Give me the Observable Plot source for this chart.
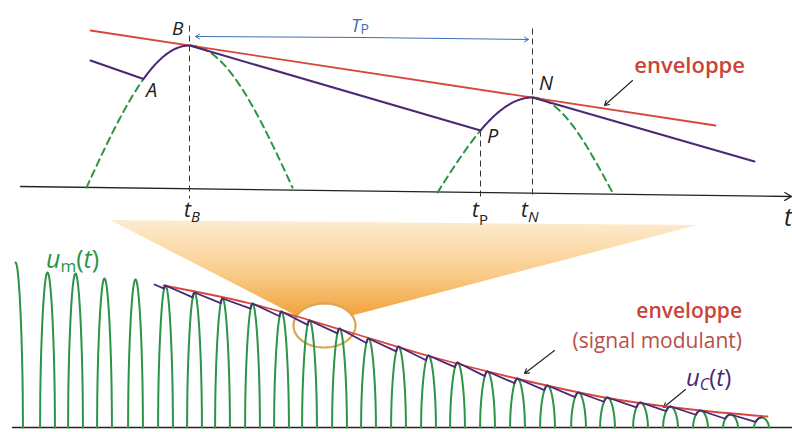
<!DOCTYPE html>
<html><head><meta charset="utf-8">
<script src="https://cdn.jsdelivr.net/npm/d3@7"></script>
<script src="https://cdn.jsdelivr.net/npm/@observablehq/plot@0.6"></script>
<style>body{margin:0;background:#fff}</style>
</head><body><div id="chart"></div>
<script>
// ---------- DATA (drawing units, t to the right, u downward) ----------
// upper detail view
const topAxisT = [20, 791];
const topAxisU = [186, 196];
const topEnvT = [90, 715];          // enveloppe (straight tangent)
const topEnvU = [30, 125];
const topArchT = [189, 532];        // carrier peaks B and N
const topArchPeakU = [45, 97];
const topArchBaseU = [187, 192];
const topArchHalfLeft = [103, 95];
const topArchHalfRight = [103, 80];
const ucTopStartT = 90, ucTopStartU = 60;
const ucTopEndT = 754, ucTopEndU = 161;
const tA = 143, tP = 480;           // where u_C meets the carrier
const markerT = [189, 480, 532];    // t_B, t_P, t_N
const markerTopU = [25, null, 28];
const markerBottomU = [198, 198, 198];

// lower overview
const baseU = 427;
const baseT = [12, 792];
const carrierPeriod = 29.7;
const carrierPeakT = [15,47,75,104,135,165,194,222,252,281,309,339,368,398,428,457,487,517,547,578,607,640,670,700,730,761];
const carrierPeakU = [262,272,273,278,279,285,292,298,303,311,320,328,338,346,355,362,371,378,385,392,397,402,406,410,414,417];
const envBottomT = [163, 250, 340, 430, 520, 610, 700, 767];
const envBottomU = [285, 303, 329, 356, 379, 398, 410, 416];
const ucBottomStartT = 154, ucBottomStartU = 284;

// zoom cone & circle
const zoomCenterT = 324, zoomCenterU = 325, zoomRx = 31, zoomRy = 22;
const coneTipT = [110, 697];
const coneTipU = [220, 225];

// colours
const GREEN = "#2b9446", RED = "#d8473c", PURPLE = "#4b2775", BLUE = "#3d6fb6", INK = "#222";

// ---------- geometry built from the data ----------
function range(a, b, step) { const r = []; for (let v = a; v <= b + 1e-9; v += step) r.push(v); if (r[r.length-1] < b) r.push(b); return r; }
function topArch(k, t) {
  const c = topArchT[k], w = t < c ? topArchHalfLeft[k] : topArchHalfRight[k];
  return topArchBaseU[k] - (topArchBaseU[k] - topArchPeakU[k]) * Math.cos(Math.PI / 2 * (t - c) / w);
}
const uP = topArch(1, tP);
markerTopU[1] = uP;

const ucTop = [{t: ucTopStartT, u: ucTopStartU}]
  .concat(range(tA, topArchT[0], 1).map(t => ({t, u: topArch(0, t)})))
  .concat(range(tP, topArchT[1], 1).map(t => ({t, u: topArch(1, t)})))
  .concat([{t: ucTopEndT, u: ucTopEndU}]);

const greenTop = [
  ...range(topArchT[0] - topArchHalfLeft[0], tA, 1).map(t => ({t, u: topArch(0, t), s: 1})),
  ...range(topArchT[0], topArchT[0] + topArchHalfRight[0], 1).map(t => ({t, u: topArch(0, t), s: 2})),
  ...range(topArchT[1] - topArchHalfLeft[1], tP, 1).map(t => ({t, u: topArch(1, t), s: 3})),
  ...range(topArchT[1], topArchT[1] + topArchHalfRight[1], 1).map(t => ({t, u: topArch(1, t), s: 4}))
];

function carrier(i, t) {
  const A = baseU - carrierPeakU[i];
  const c = Math.cos(2 * Math.PI * (t - carrierPeakT[i]) / carrierPeriod);
  return baseU - A * Math.sqrt(Math.max(0, c));
}
const arches = [];
carrierPeakT.forEach((c, i) => {
  const a = i === 0 ? c : c - carrierPeriod / 4;
  range(a, c + carrierPeriod / 4, 0.2).forEach(t => arches.push({t, u: carrier(i, t), i}));
});

const ucBottom = [];
{
  let st = ucBottomStartT, su = ucBottomStartU, slope = 0.45;
  for (let i = 5; i < carrierPeakT.length; i++) {
    const c = carrierPeakT[i];
    let tt = st;
    while (tt < c) {
      const lu = su + slope * (tt - st);
      if (tt >= c - carrierPeriod / 4 && lu >= carrier(i, tt)) break;
      tt += 0.1;
    }
    ucBottom.push({t: st, u: su});
    range(tt, c, 0.1).forEach(t => ucBottom.push({t, u: carrier(i, t)}));
    st = c; su = carrierPeakU[i];
    const next = i + 1 < carrierPeakT.length ? (carrierPeakU[i+1] - su) / (carrierPeakT[i+1] - c) : 0.12;
    slope = next + 0.2;
  }
  ucBottom.push({t: st, u: su});
}

const ellipse = range(0, 2 * Math.PI, Math.PI / 60).map(a => ({t: zoomCenterT + zoomRx * Math.cos(a), u: zoomCenterU + zoomRy * Math.sin(a)}));
const coneTop = t => coneTipU[0] + (coneTipU[1] - coneTipU[0]) * (t - coneTipT[0]) / (coneTipT[1] - coneTipT[0]);
const arcL = zoomCenterT - 28, arcR = zoomCenterT + 28;
const cone = [{t: coneTipT[0], top: coneTipU[0], bottom: coneTipU[0]}]
  .concat(range(arcL, arcR, 1).map(t => ({t, top: coneTop(t), bottom: zoomCenterU - zoomRy * Math.sqrt(Math.max(0, 1 - ((t - zoomCenterT) / zoomRx) ** 2))})))
  .concat([{t: coneTipT[1], top: coneTipU[1], bottom: coneTipU[1]}]);

// ---------- rich text helper (sub-/italic parts) ----------
function rich(x, y, parts, {anchor = "start", fill = INK, size = 20, weight = null} = {}) {
  return (index, scales) => {
    const sx = scales && typeof scales.x === "function" ? scales.x : v => v;
    const sy = scales && typeof scales.y === "function" ? scales.y : v => v;
    const t = d3.create("svg:text").attr("x", sx(x)).attr("y", sy(y)).attr("fill", fill)
      .attr("font-size", size).attr("text-anchor", anchor).attr("font-family", "'Open Sans', sans-serif");
    if (weight) t.attr("font-weight", weight);
    for (const p of parts) {
      const ts = t.append("tspan").text(p.s);
      if (p.i) ts.attr("font-style", "italic");
      if (p.size) ts.attr("font-size", p.size);
      if (p.dy) ts.attr("dy", p.dy);
      if (p.fill) ts.attr("fill", p.fill);
    }
    return t.node();
  };
}
const defs = () => {
  const d = d3.create("svg:defs");
  const g = d.append("linearGradient").attr("id", "coneGrad").attr("x1", 0).attr("y1", 0).attr("x2", 0).attr("y2", 1);
  g.append("stop").attr("offset", "0%").attr("stop-color", "#fdecd0");
  g.append("stop").attr("offset", "55%").attr("stop-color", "#f9cd8c");
  g.append("stop").attr("offset", "100%").attr("stop-color", "#f2a23c");
  return d.node();
};

const axisData = [{t1: topAxisT[0], u1: topAxisU[0], t2: topAxisT[1], u2: topAxisU[1]}];
const markers = markerT.map((t, k) => ({t, u1: markerTopU[k], u2: markerBottomU[k]}));

const chart = Plot.plot({
  width: 792, height: 432, margin: 0,
  x: {domain: [0, 792], axis: null},
  y: {domain: [432, 0], axis: null},
  style: {background: "white", fontFamily: "'Open Sans', sans-serif", overflow: "visible"},
  marks: [
    defs,
    Plot.area(cone, {x1: "t", y1: "top", y2: "bottom", fill: "url(#coneGrad)", curve: "linear"}),
    Plot.line(ellipse, {x: "t", y: "u", stroke: "#d9a651", strokeWidth: 2.2, curve: "linear"}),
    // upper view
    Plot.arrow(axisData, {x1: "t1", y1: "u1", x2: "t2", y2: "u2", stroke: INK, strokeWidth: 1.3, headLength: 9}),
    Plot.link(markers, {x1: "t", x2: "t", y1: "u1", y2: "u2", stroke: "#333", strokeWidth: 1, strokeDasharray: "6,4"}),
    Plot.line(greenTop, {x: "t", y: "u", z: "s", stroke: GREEN, strokeWidth: 2, strokeDasharray: "7,5"}),
    Plot.line(topEnvT.map((t, k) => ({t, u: topEnvU[k]})), {x: "t", y: "u", stroke: RED, strokeWidth: 1.8}),
    Plot.line(ucTop, {x: "t", y: "u", stroke: PURPLE, strokeWidth: 2}),
    Plot.arrow([{a: 362, b: 37, c: 195, d: 36}, {a: 362, b: 37, c: 528, d: 39}], {x1: "a", y1: "b", x2: "c", y2: "d", stroke: BLUE, strokeWidth: 1, headLength: 7}),
    Plot.arrow([{a: 632, b: 80, c: 604, d: 105}, {a: 554, b: 350, c: 524, d: 373}, {a: 685, b: 389, c: 663, d: 407}], {x1: "a", y1: "b", x2: "c", y2: "d", stroke: INK, strokeWidth: 1.1, headLength: 7}),
    // lower view
    Plot.line(baseT.map(t => ({t, u: baseU})), {x: "t", y: "u", stroke: INK, strokeWidth: 1.5}),
    Plot.line(arches, {x: "t", y: "u", z: "i", stroke: GREEN, strokeWidth: 2}),
    Plot.line(envBottomT.map((t, k) => ({t, u: envBottomU[k]})), {x: "t", y: "u", stroke: RED, strokeWidth: 1.8, curve: "monotone-x"}),
    Plot.line(ucBottom, {x: "t", y: "u", stroke: PURPLE, strokeWidth: 1.8}),
    // labels
    rich(172, 35, [{s: "B", i: 1}], {size: 19}),
    rich(146, 97, [{s: "A", i: 1}], {size: 20}),
    rich(487, 143, [{s: "P", i: 1}], {size: 20}),
    rich(539, 90, [{s: "N", i: 1}], {size: 20}),
    rich(351, 32, [{s: "T", i: 1}, {s: "P", size: 14, dy: 2}], {fill: BLUE, size: 19}),
    rich(184, 217, [{s: "t", i: 1}, {s: "B", i: 1, size: 15, dy: 5}], {size: 21}),
    rich(472, 217, [{s: "t", i: 1}, {s: "P", size: 15, dy: 8}], {size: 21}),
    rich(521, 217, [{s: "t", i: 1}, {s: "N", i: 1, size: 15, dy: 5}], {size: 21}),
    rich(784, 226, [{s: "t", i: 1}], {size: 25}),
    rich(745, 73, [{s: "enveloppe"}], {anchor: "end", fill: "#c9443a", size: 22, weight: 600}),
    rich(46, 268, [{s: "u", i: 1}, {s: "m", size: 17, dy: 4}, {s: "(", dy: -4}, {s: "t", i: 1}, {s: ")"}], {fill: GREEN, size: 25}),
    rich(742, 318, [{s: "enveloppe"}], {anchor: "end", fill: "#c9443a", size: 21, weight: 600}),
    rich(742, 348, [{s: "(signal modulant)"}], {anchor: "end", fill: "#b8504a", size: 21}),
    rich(686, 386, [{s: "u", i: 1}, {s: "C", i: 1, size: 16, dy: 4}, {s: "(", dy: -4}, {s: "t", i: 1}, {s: ")"}], {fill: PURPLE, size: 24})
  ]
});
document.getElementById("chart").append(chart);
</script>
</body></html>
